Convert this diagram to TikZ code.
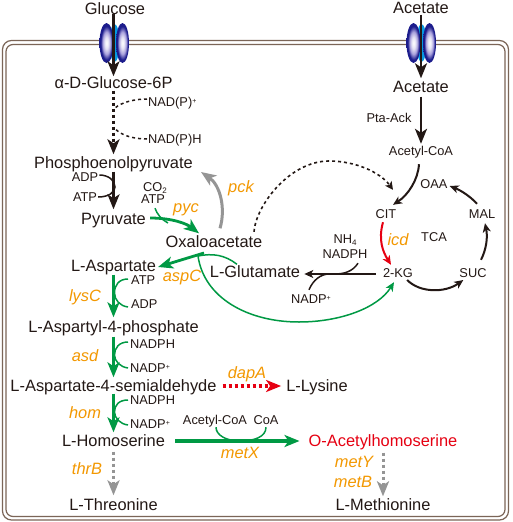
\documentclass[tikz,border=0pt]{standalone}
\usepackage{fontspec}
\setmainfont{Liberation Sans}
\usetikzlibrary{arrows.meta,calc}
\definecolor{gr}{HTML}{009944}
\definecolor{org}{HTML}{F39800}
\definecolor{rd}{HTML}{E60012}
\definecolor{gy}{HTML}{959595}
\definecolor{blk}{HTML}{231815}
\definecolor{memb}{HTML}{7B6557}
\definecolor{navy1}{HTML}{1C1C8C}
\definecolor{lil}{HTML}{A8A0DC}
\pgfdeclareradialshading{lobeS}{\pgfpoint{0bp}{0bp}}{color(0bp)=(white);color(7bp)=(white!70!lil);color(14bp)=(lil);color(21bp)=(navy1);color(50bp)=(navy1)}
\newcommand{\sps}[1]{\raisebox{.5ex}{\fontsize{7}{7}\selectfont #1}}
\newcommand{\sbs}[1]{\raisebox{-.25ex}{\fontsize{8}{8}\selectfont #1}}
\tikzset{
  big/.style={inner sep=0pt,text=blk,font=\fontsize{16.4}{18}\selectfont,text height=13.4pt,text depth=1.6pt},
  small/.style={inner sep=0pt,text=blk,font=\fontsize{12.8}{14}\selectfont,text height=10.6pt,text depth=1.4pt},
  enz/.style={inner sep=0pt,text=org,font=\fontsize{16.4}{18}\selectfont\itshape,text height=13.4pt,text depth=1.6pt},
  mainhead/.style={-{Stealth[length=15pt,width=12pt,inset=4pt]}},
  midhead/.style={-{Stealth[length=9pt,width=8pt,inset=2.5pt]}},
  smallhead/.style={-{Stealth[length=8pt,width=8pt,inset=2pt]}},
  blkmain/.style={draw=blk,line width=2.6pt,mainhead},
  blkdash/.style={draw=blk,line width=3pt,dash pattern=on 3pt off 3pt,mainhead},
  blkthin/.style={draw=blk,line width=1.5pt},
  blkdashthin/.style={draw=blk,line width=1.5pt,dash pattern=on 3pt off 3pt},
  tca/.style={draw=blk,line width=2pt,midhead},
  grmain/.style={draw=gr,line width=3pt,mainhead},
  grthin/.style={draw=gr,line width=1.5pt},
  gydash/.style={draw=gy,line width=3pt,dash pattern=on 3pt off 3pt,mainhead},
  lobe/.style={shading=lobeS},
}
\begin{document}
\begin{tikzpicture}[x=1pt,y=-1pt]
\useasboundingbox (0,0) rectangle (512,522);
\fill[white] (0,0) rectangle (512,522);
% membrane
\draw[memb,line width=1.2pt,rounded corners=9pt] (2.5,40.5) rectangle (508.5,520);
\draw[memb,line width=1.2pt,rounded corners=7pt] (6,44.5) rectangle (505,516.5);
% channels
\foreach \cx in {114.5,421.5}{
  \fill[cyan!85!blue] (\cx,43) ellipse [x radius=5,y radius=19];
  \shade[lobe] (\cx-8,43) ellipse [x radius=7,y radius=20];
  \shade[lobe] (\cx+8,43) ellipse [x radius=6.5,y radius=20];
}
% metabolites
\node[big] (glu) at (115,9) {Glucose};
\node[big] (ac0) at (421,8) {Acetate};
\node[big] (ac1) at (421,87) {Acetate};
\node[big] (g6p) at (113.5,83) {α-D-Glucose-6P};
\node[big] (pep) at (113.5,163) {Phosphoenolpyruvate};
\node[big] (pyr) at (113.5,219) {Pyruvate};
\node[big] (oaa) at (214,242) {Oxaloacetate};
\node[big] (asp) at (113.5,266) {L-Aspartate};
\node[big] (glt) at (255,272) {L-Glutamate};
\node[big] (asp4) at (113.5,327) {L-Aspartyl-4-phosphate};
\node[big] (asa) at (113.5,386) {L-Aspartate-4-semialdehyde};
\node[big] (hom) at (113.5,441) {L-Homoserine};
\node[big] (thr) at (113.5,505) {L-Threonine};
\node[big] (lys) at (317,386) {L-Lysine};
\node[big,text=rd] (oah) at (383,441) {O-Acetylhomoserine};
\node[big] (met) at (383,505) {L-Methionine};
% small labels
\node[small] (acoa) at (421,151) {Acetyl-CoA};
\node[small] (pta) at (389,118) {Pta-Ack};
\node[small,anchor=west] (nadp1) at (148,102) {NAD(P)\sps{+}};
\node[small,anchor=west] (nadh1) at (148,139) {NAD(P)H};
\node[small] (adp0) at (85,177) {ADP};
\node[small] (atp0) at (85,197) {ATP};
\node[small] (co2) at (155,187) {CO\sbs{2}};
\node[small] (atp1) at (153,199) {ATP};
\node[small,anchor=west] (atp2) at (131,280) {ATP};
\node[small,anchor=west] (adp2) at (131,304) {ADP};
\node[small,anchor=west] (nadph3) at (130,344) {NADPH};
\node[small,anchor=west] (nadp3) at (130,368) {NADP\sps{+}};
\node[small,anchor=west] (nadph4) at (130,400) {NADPH};
\node[small,anchor=west] (nadp4) at (130,424) {NADP\sps{+}};
\node[small] (acoa2) at (215,420) {Acetyl-CoA};
\node[small] (coa) at (266,420) {CoA};
\node[small] (cit) at (386,214) {CIT};
\node[small] (oaa2) at (434,184) {OAA};
\node[small] (mal) at (482,214) {MAL};
\node[small] (suc) at (473,273) {SUC};
\node[small] (kg) at (398,273) {2-KG};
\node[small] (tcal) at (434,237) {TCA};
\node[small] (nh4) at (345,239) {NH\sbs{4}};
\node[small] (nadph5) at (345,254) {NADPH};
\node[small] (nadp5) at (311,299) {NADP\sps{+}};
% enzymes
\node[enz] (pyc) at (186,207) {pyc};
\node[enz] (pck) at (241,187) {pck};
\node[enz] (aspc) at (182,276) {aspC};
\node[enz] (lysc) at (85,296) {lysC};
\node[enz] (asd) at (85,356) {asd};
\node[enz] (homg) at (85,413) {hom};
\node[enz] (thrb) at (87,469) {thrB};
\node[enz] (dapa) at (247,373) {dapA};
\node[enz] (metx) at (240,453) {metX};
\node[enz] (mety) at (354,462) {metY};
\node[enz] (metb) at (353,482) {metB};
\node[enz] (icd) at (398,240) {icd};
% junction coordinates
\coordinate (j1a) at (115,108);
\coordinate (j1b) at (114.5,128);
\coordinate (j2) at (115,187);
\coordinate (j3) at (168,223);
\coordinate (j4) at (114.5,293);
\coordinate (j5) at (114.5,355);
\coordinate (j6) at (114.5,412);
\coordinate (j7) at (240,441);
\coordinate (j8) at (198,256);
\coordinate (j9) at (335,274);
\coordinate (j10) at (204,253);
\coordinate (j11) at (329,161);
\coordinate (j12) at (299,322);
% main column
\draw[blkmain] (g6p.north -| glu.south) ++(-1.5,-61) -- ($(g6p.north)+(0,1)$);
\draw[blkdash] (g6p.south) -- ($(pep.north)+(0,-1)$);
\draw[blkmain] (pep.south) ++(0,1) -- ($(pyr.north)+(0,-2)$);
\draw[grmain] (asp.south) ++(0,1) -- ($(asp4.north)+(0,-2)$);
\draw[grmain] (asp4.south) ++(0,2) -- ($(asa.north)+(0,-1)$);
\draw[grmain] (asa.south) ++(0,0) -- ($(hom.north)+(0,-1)$);
\draw[gydash] (hom.south) ++(0,3) -- ($(thr.north)+(0,-2)$);
\draw[gydash] (oah.south) ++(0,4) -- ($(met.north)+(0,-1)$);
% acetate
\draw[blkmain] (ac0.south) ++(0,-1) -- ($(ac1.north)+(0,-1)$);
\draw[blkmain] (ac1.south) ++(0,2) -- ($(acoa.north)+(0,-1)$);
% cofactors
\draw[blkdashthin] ($(nadp1.west)+(-1,-3)$) .. controls (135,99) and (122,102) .. (j1a);
\draw[blkdashthin] ($(nadh1.west)+(-1,0)$) .. controls (135,139) and (121,136) .. (j1b);
\draw[blkthin] ($(adp0.east)+(1,-2)$) .. controls (108,175) and (115,180) .. (j2) .. controls (115,192) and (109,197) .. ($(atp0.east)+(1,0)$);
\draw[grthin] ($(atp2.west)+(-3,-1)$) .. controls (119,279) and (114.5,285) .. (j4) .. controls (114.5,300) and (120,306) .. ($(adp2.west)+(-3,3)$);
\draw[grthin] ($(nadph3.west)+(-2,-2)$) .. controls (119,342) and (114.5,348) .. (j5) .. controls (114.5,361) and (120,367) .. ($(nadp3.west)+(-2,0)$);
\draw[grthin] ($(nadph4.west)+(-2,0)$) .. controls (119,400) and (114.5,405) .. (j6) .. controls (114.5,418) and (120,424) .. ($(nadp4.west)+(-2,1)$);
\draw[grthin] ($(acoa2.south)+(1,1)$) .. controls (216,435) and (226,441) .. (j7) .. controls (254,441) and (266,437) .. ($(coa.south)+(0,1)$);
% pyc
\draw[grthin] ($(atp1.south)+(2,3)$) .. controls (157,214) and (161,219) .. (j3);
\draw[draw=gr,line width=2.8pt,mainhead] ($(pyr.east)+(4,-1)$) .. controls (173,218) and (187,224) .. ($(oaa.north)+(-15,-1)$);
% pck
\draw[draw=gy,line width=3pt,mainhead] ($(oaa.north)+(6,-6)$) .. controls (226,208) and (220,185) .. ($(pep.east)+(8,9)$);
% oaa to cit
\draw[blkdashthin,smallhead,line width=1.6pt] ($(oaa.north)+(40,-2.5)$) .. controls (256,205) and (290,161) .. (j11) .. controls (355,161) and (380,172) .. ($(cit.north)+(7,-18)$);
% oaa to asp
\draw[draw=gr,line width=2.8pt,mainhead] (j10) -- ($(asp.east)+(2,1)$);
\draw[grthin] ($(glt.north)+(-18,0)$) .. controls (225,255) and (213,253) .. (j8);
\draw[draw=gr,line width=1.5pt] (j8) .. controls (204,298) and (248,322) .. (j12);
\draw[draw=gr,line width=1.5pt,midhead] (j12) .. controls (340,322) and (378,308) .. ($(kg.south)+(-4,3)$);
% tca
\draw[tca] ($(acoa.south)+(-2,7)$) .. controls (418,180) and (408,195) .. ($(cit.north)+(7,-3)$);
\draw[tca] ($(mal.north)+(-5,-4)$) .. controls (470,196) and (460,190) .. ($(oaa2.east)+(2,2)$);
\draw[tca] ($(suc.north)+(8,-7)$) .. controls (486,250) and (488,238) .. ($(mal.south)+(3,3)$);
\draw[tca] ($(kg.east)+(-6,7)$) .. controls (420,293) and (445,293) .. ($(suc.west)+(4,7)$);
\draw[draw=rd,line width=2pt,midhead] ($(cit.south)+(-3,2)$) .. controls (378,240) and (383,252) .. ($(kg.north)+(-7,-2)$);
\draw[draw=blk,line width=1.6pt,midhead] ($(kg.west)+(-7,1)$) -- ($(glt.east)+(4,2)$);
\draw[blkthin] ($(nadph5.south)+(13,3)$) .. controls (353,271) and (345,274) .. (j9);
\draw[blkthin] ($(nadp5.north)+(-2,-3)$) .. controls (313,280) and (321,274) .. ($(j9)+(-6,0)$);
% products
\draw[draw=rd,line width=3.5pt,dash pattern=on 3pt off 3pt,mainhead] ($(asa.east)+(6,0)$) -- ($(lys.west)+(-5,0)$);
\draw[draw=gr,line width=3.5pt,mainhead] ($(hom.east)+(10,0)$) -- ($(oah.west)+(-9,0)$);
\end{tikzpicture}
\end{document}
